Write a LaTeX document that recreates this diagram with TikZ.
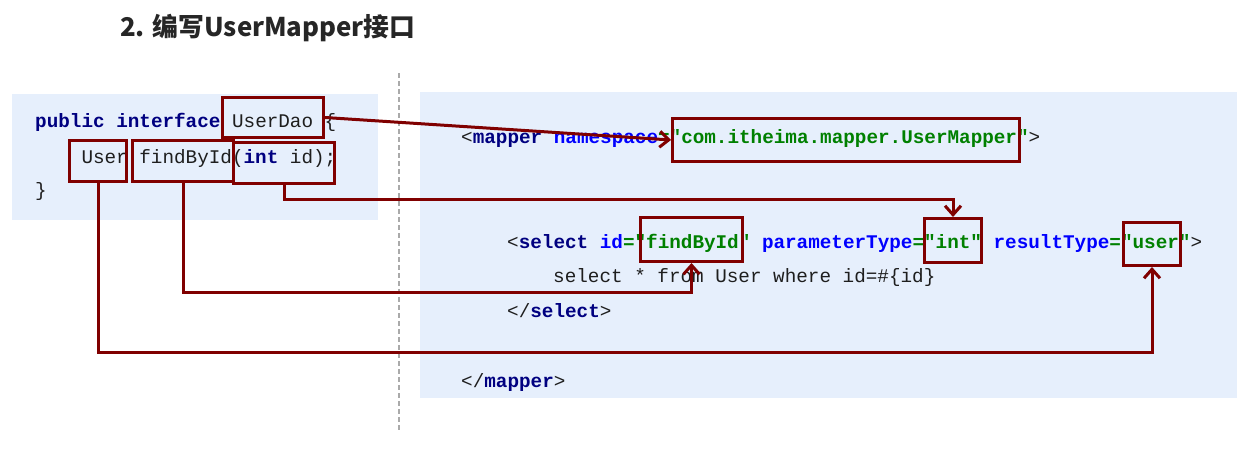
\documentclass[tikz,border=0pt]{standalone}
\usepackage{fontspec}
\setmonofont{Liberation Mono}
\newfontfamily\cjk{Noto Sans CJK SC}
\usetikzlibrary{arrows.meta}
\definecolor{panelbg}{RGB}{230,239,252}
\definecolor{boxred}{RGB}{128,0,0}
\definecolor{kwnavy}{RGB}{0,0,128}
\definecolor{attrblue}{RGB}{0,0,255}
\definecolor{strgreen}{RGB}{0,128,0}
\definecolor{titlegray}{RGB}{38,38,38}
\definecolor{dashgray}{RGB}{170,170,170}
\definecolor{codegray}{RGB}{30,30,30}
\newcommand\kw[1]{{\bfseries\color{kwnavy}#1}}
\newcommand\at[1]{{\bfseries\color{attrblue}#1}}
\newcommand\str[1]{{\bfseries\color{strgreen}#1}}
\tikzset{
  panel/.style={fill=panelbg, draw=none},
  codeline/.style={inner sep=0pt, anchor=base west, font=\ttfamily\fontsize{19.3}{23}\selectfont, text=codegray},
  redbox/.style={draw=boxred, line width=3pt, fill=none, inner sep=0pt, anchor=north west},
  conn/.style={draw=boxred, line width=3pt, -{Straight Barb[length=9pt,width=16pt]}},
  sep/.style={draw=dashgray, line width=1.5pt, dash pattern=on 5pt off 3pt},
  titletext/.style={inner sep=0pt, anchor=base west, font=\cjk\bfseries\fontsize{25.8}{30}\selectfont, text=titlegray}
}
\begin{document}
\begin{tikzpicture}[x=1pt,y=-1pt]
\useasboundingbox (0,0) rectangle (1245,455);
% title
\node[titletext] (title) at (120,36) {2. 编写UserMapper接口};
% separator
\coordinate (septop) at (399,73);
\coordinate (sepbot) at (399,432);
\draw[sep] (septop) -- (sepbot);
% panels
\path[panel] (12,94) rectangle (378,220);
\path[panel] (420,92) rectangle (1237,398);
% left code
\node[codeline] (l1) at (35,127) {\kw{public interface} UserDao \{};
\node[codeline] (l2) at (81.3,163) {User findById(\kw{int} id);};
\node[codeline] (l3) at (35,196) {\}};
% right code
\node[codeline] (r1) at (461,143) {<\kw{mapper} \at{namespace}\str{="com.itheima.mapper.UserMapper"}>};
\node[codeline] (r2) at (507,248) {<\kw{select} \at{id}\str{="findById"} \at{parameterType}\str{="int"} \at{resultType}\str{="user"}>};
\node[codeline] (r3) at (553,282) {select * from User where id=\#\{id\}};
\node[codeline] (r4) at (507,317) {</\kw{select}>};
\node[codeline] (r5) at (461,387) {</\kw{mapper}>};
% red boxes
\node[redbox, minimum width=101pt, minimum height=40pt] (ud) at (221,96) {};
\node[redbox, minimum width=57pt, minimum height=41pt] (usl) at (68,139) {};
\node[redbox, minimum width=101pt, minimum height=41pt] (fbl) at (131,139) {};
\node[redbox, minimum width=101pt, minimum height=41pt] (intl) at (232,141) {};
\node[redbox, minimum width=347pt, minimum height=43pt] (ns) at (671,117) {};
\node[redbox, minimum width=102pt, minimum height=44pt] (fbr) at (639,216) {};
\node[redbox, minimum width=57pt, minimum height=44pt] (intr) at (923,217) {};
\node[redbox, minimum width=57pt, minimum height=43pt] (usr) at (1122,221) {};
% connectors
\coordinate (h1) at (0,199);
\coordinate (h2) at (0,292);
\coordinate (h3) at (0,352);
\draw[conn] (ud.east) -- (ns.west);
\draw[conn] (intl.south) -- (intl.south |- h1) -| (intr.north);
\draw[conn] (fbl.south) -- (fbl.south |- h2) -| (fbr.south);
\draw[conn] (usl.south) -- (usl.south |- h3) -| (usr.south);
\end{tikzpicture}
\end{document}
